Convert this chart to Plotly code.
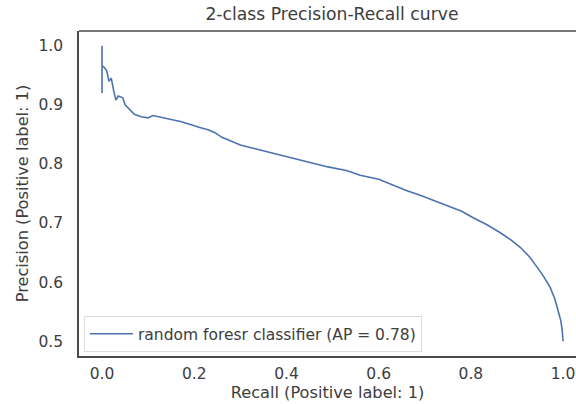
import plotly.graph_objects as go

# Precision-recall curve of the random forest classifier
recall = [0.0, 0.0, 0.0, 0.003, 0.01, 0.015, 0.02, 0.025, 0.03, 0.035, 0.045, 0.05,
          0.06, 0.07, 0.085, 0.10, 0.11, 0.13, 0.15, 0.17, 0.195, 0.21, 0.23, 0.245,
          0.26, 0.28, 0.30, 0.33, 0.35, 0.38, 0.40, 0.43, 0.46, 0.49, 0.53, 0.56,
          0.60, 0.63, 0.66, 0.69, 0.72, 0.75, 0.78, 0.805, 0.835, 0.863, 0.886,
          0.907, 0.927, 0.944, 0.959, 0.972, 0.982, 0.989, 0.995, 0.998, 1.0]
precision = [1.0, 0.92, 0.965, 0.965, 0.958, 0.94, 0.945, 0.925, 0.908, 0.915, 0.912, 0.90,
             0.892, 0.884, 0.880, 0.878, 0.882, 0.879, 0.876, 0.872, 0.866, 0.862, 0.858, 0.853,
             0.845, 0.838, 0.832, 0.826, 0.822, 0.816, 0.812, 0.806, 0.800, 0.795, 0.789, 0.781,
             0.774, 0.764, 0.755, 0.747, 0.738, 0.730, 0.720, 0.709, 0.697, 0.684, 0.672,
             0.659, 0.643, 0.625, 0.608, 0.591, 0.572, 0.552, 0.535, 0.519, 0.500]

x_ticks = [0.0, 0.2, 0.4, 0.6, 0.8, 1.0]
y_ticks = [0.5, 0.6, 0.7, 0.8, 0.9, 1.0]
legend_name = "random foresr classifier (AP = 0.78)"

text_color = "#3d3d3d"
frame_color = "#4a4a4a"
font = "DejaVu Sans"
tick_size = 15.5
label_size = 16.2
title_size = 17.2

fig = go.Figure()
fig.add_trace(go.Scatter(
    x=recall, y=precision, mode="lines", name=legend_name,
    line=dict(color="#4C72B0", width=1.6),
))

fig.update_layout(
    width=576, height=404,
    margin=dict(l=79, r=0, t=31, b=48),
    paper_bgcolor="white", plot_bgcolor="white",
    font=dict(family=font, size=tick_size, color=text_color),
    title=dict(text="2-class Precision-Recall curve", x=0.509, xref="paper",
               xanchor="center", y=1 - 14 / 404, yref="container", yanchor="middle",
               font=dict(family=font, size=title_size, color=text_color)),
    showlegend=True,
    legend=dict(x=0.01, y=0.012, xanchor="left", yanchor="bottom",
                bgcolor="white", bordercolor="#dcdcdc", borderwidth=1,
                itemwidth=43,
                font=dict(family=font, size=tick_size, color=text_color)),
    xaxis=dict(range=[-0.05, 1.028], tickvals=x_ticks, ticktext=[f"{v:.1f}" for v in x_ticks],
               showgrid=False, zeroline=False, showline=True, linecolor=frame_color,
               linewidth=1.5, mirror=False, ticks="", ticklabelstandoff=3,
               tickfont=dict(size=tick_size),
               title=dict(text="Recall (Positive label: 1)", standoff=2,
                          font=dict(size=label_size))),
    yaxis=dict(range=[0.475, 1.025], tickvals=y_ticks, ticktext=[f"{v:.1f}" for v in y_ticks],
               showgrid=False, zeroline=False, showline=True, linecolor=frame_color,
               linewidth=1.5, ticks="", ticklabelstandoff=11,
               tickfont=dict(size=tick_size),
               title=dict(text="Precision (Positive label: 1)", standoff=6,
                          font=dict(size=label_size))),
)

# top frame edge
fig.add_shape(type="line", xref="paper", yref="paper", x0=0, x1=1, y0=1, y1=1,
              line=dict(color=frame_color, width=1.5))

fig.write_html("out.html")
